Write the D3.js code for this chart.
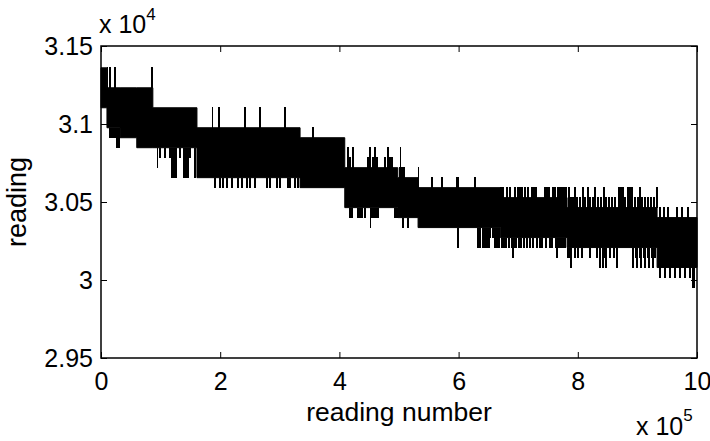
<!DOCTYPE html>
<html><head><meta charset="utf-8">
<script src="https://cdn.jsdelivr.net/npm/d3@7"></script>
<style>
body{margin:0;background:#fff}
svg{display:block}
text{font-family:"Liberation Sans",Arial,Helvetica,sans-serif;fill:#000}
</style>
</head><body>
<svg id="chart" width="710" height="441"></svg>
<script>
// tick values (x in units of 1e5 readings, y in units of 1e4)
const xTicks = [0, 2, 4, 6, 8, 10];
const yTicks = [2.95, 3, 3.05, 3.1, 3.15];

// dense core band of the reading trace: start reading number, lower and upper reading
const bandStart = [0, 10000, 32000, 60000, 87000, 161000, 334000, 409000, 498000, 532000, 670000, 782000, 933000];
const bandLo    = [31104, 30976, 30912, 30848, 30848, 30656, 30592, 30464, 30400, 30336, 30272, 30208, 30080];
const bandHi    = [31360, 31232, 31232, 31232, 31104, 30976, 30912, 30720, 30656, 30592, 30528, 30464, 30400];
const lastReading = 1000000;

// isolated excursions outside the band: reading number and reading value
const spikeAt = [
  10600, 15100, 23500, 85100, 15100, 18500, 21800, 25200, 26800, 30200,
  95100, 99000, 107400, 115800, 132600, 149300, 119100, 122500, 125800, 139300, 142600, 146000, 157700,
  187400, 198000, 241600, 266800, 308700,
  191300, 199700, 204700, 211400, 219800, 229900, 236600, 245000, 250000, 258400, 278500, 283600, 295300, 300300, 313800, 317100, 325500, 330500,
  355700,
  414400, 422800, 451300, 459700, 481500,
  417800, 448000, 456400, 463100, 476500, 484900, 488300,
  417800, 421100, 431200, 434600, 437900, 443000, 454700, 458100, 461400, 464800, 493300, 496600,
  452500,
  501700, 505000, 508400, 502500, 506700, 515100,
  532400, 555400, 572100, 597300, 599000, 627500,
  652700, 657700,
  599000, 632600, 635900, 640900, 644300, 647700, 651000, 661100, 664400, 667800,
  671100, 674500, 681200, 686200, 694600, 699700, 703000, 706400, 711400, 716400, 723200, 726500, 729900, 745000, 748300, 751700, 758400, 761700, 766800, 770100, 773500, 776800, 780200,
  672800, 676200, 679500, 684600, 689600, 692900, 696300, 701300, 704700, 709700, 714800, 719800, 724800, 731500, 736600, 739900, 746600, 753400, 756700, 763400, 768500, 771800, 775200, 778500,
  691300, 765100,
  785200, 795300, 808700, 817100, 828900, 844000, 869100, 872500, 875800, 884200, 887600, 890900, 904400, 932900,
  788600, 791900, 798700, 803700, 812100, 820500, 825500, 833900, 838900, 847300, 852300, 857400, 862400, 879200, 896000, 901000, 907700, 912800, 917800, 922800, 927900,
  783600, 786900, 795300, 800300, 807000, 820500, 832200, 837200, 845600, 854000, 860700, 865800, 892600, 897700, 904400, 911100, 917800, 924500, 929500,
  788600, 837200, 842300, 847300, 865800, 892600, 899300, 906000, 912800, 919500, 926200,
  937900, 944600, 951300, 966400, 974800, 984900,
  937900, 946300, 954700, 963100, 971500, 979900, 988300,
  993300, 995000
];
const spikeVal = [
  31360, 31360, 31360, 31360, 30912, 30912, 30912, 30912, 30848, 30848,
  30720, 30784, 30784, 30784, 30784, 30784, 30656, 30656, 30656, 30656, 30656, 30656, 30656,
  31104, 31104, 31104, 31104, 31104,
  30592, 30592, 30592, 30592, 30592, 30592, 30592, 30592, 30592, 30592, 30592, 30592, 30592, 30592, 30592, 30592, 30592, 30592,
  30976,
  30848, 30848, 30848, 30848, 30848,
  30784, 30784, 30784, 30784, 30784, 30784, 30784,
  30400, 30400, 30400, 30400, 30400, 30400, 30400, 30400, 30400, 30400, 30400, 30400,
  30336,
  30720, 30720, 30720, 30848, 30336, 30336,
  30720, 30656, 30656, 30656, 30656, 30656,
  30272, 30272,
  30208, 30208, 30208, 30208, 30208, 30208, 30208, 30208, 30208, 30208,
  30592, 30592, 30592, 30592, 30592, 30592, 30592, 30592, 30592, 30592, 30592, 30592, 30592, 30592, 30592, 30592, 30592, 30592, 30592, 30592, 30592, 30592, 30592,
  30208, 30208, 30208, 30208, 30208, 30208, 30208, 30208, 30208, 30208, 30208, 30208, 30208, 30208, 30208, 30208, 30208, 30208, 30208, 30208, 30208, 30208, 30208, 30208,
  30144, 30144,
  30592, 30592, 30592, 30592, 30592, 30592, 30592, 30592, 30592, 30592, 30592, 30592, 30592, 30592,
  30528, 30528, 30528, 30528, 30528, 30528, 30528, 30528, 30528, 30528, 30528, 30528, 30528, 30528, 30528, 30528, 30528, 30528, 30528, 30528, 30528,
  30144, 30144, 30144, 30144, 30144, 30144, 30144, 30144, 30144, 30144, 30144, 30144, 30144, 30144, 30144, 30144, 30144, 30144, 30144,
  30080, 30080, 30080, 30080, 30080, 30080, 30080, 30080, 30080, 30080, 30080,
  30464, 30464, 30464, 30464, 30464, 30464,
  30016, 30016, 30016, 30016, 30016, 30016, 30016,
  29952, 29952
];

const svg = d3.select("#chart");
const L = 101, R = 697, T = 46, B = 358;
const x = d3.scaleLinear().domain([0, 1e6]).range([L, R]);
const y = d3.scaleLinear().domain([29500, 31500]).range([B, T]);

// trace: core band
const bandPts = bandStart.map((s, i) => ({r: s, lo: bandLo[i], hi: bandHi[i]}));
bandPts.push({r: lastReading, lo: bandLo[bandLo.length - 1], hi: bandHi[bandHi.length - 1]});
const area = d3.area().curve(d3.curveStepAfter)
  .x(d => x(d.r)).y0(d => y(d.lo)).y1(d => y(d.hi));
svg.append("path").datum(bandPts).attr("d", area)
  .attr("fill", "#000").attr("stroke", "#000").attr("stroke-width", 1);

// trace: excursions
const spikes = spikeAt.map((r, i) => {
  const k = Math.max(0, d3.bisectRight(bandStart, r) - 1);
  const base = spikeVal[i] > bandHi[k] ? bandHi[k] : bandLo[k];
  return {r, v: spikeVal[i], base};
});
svg.append("g").attr("shape-rendering", "crispEdges")
  .selectAll("line").data(spikes).join("line")
  .attr("x1", d => x(d.r)).attr("x2", d => x(d.r))
  .attr("y1", d => y(d.base)).attr("y2", d => y(d.v) + (d.v > d.base ? -0.5 : 0.5))
  .attr("stroke", "#000").attr("stroke-width", 1.6);

// axes
const fs = 25;
const xv = xTicks.map(t => t * 1e5);
const yv = yTicks.map(t => Math.round(t * 1e4));
const gB = svg.append("g").attr("transform", `translate(0,${B})`)
  .call(d3.axisBottom(x).tickValues(xv).tickFormat((d, i) => String(xTicks[i])).tickSizeInner(-6).tickSizeOuter(0).tickPadding(14));
const gT = svg.append("g").attr("transform", `translate(0,${T})`)
  .call(d3.axisTop(x).tickValues(xv).tickFormat("").tickSizeInner(-6).tickSizeOuter(0));
const gL = svg.append("g").attr("transform", `translate(${L},0)`)
  .call(d3.axisLeft(y).tickValues(yv).tickFormat((d, i) => String(yTicks[i])).tickSizeInner(-6).tickSizeOuter(0).tickPadding(8));
const gR = svg.append("g").attr("transform", `translate(${R},0)`)
  .call(d3.axisRight(y).tickValues(yv).tickFormat("").tickSizeInner(-6).tickSizeOuter(0));
[gB, gT, gL, gR].forEach(g => {
  g.select(".domain").remove();
  g.selectAll(".tick line").attr("stroke", "#000").attr("stroke-width", 1);
  g.selectAll("text").attr("font-size", fs).attr("font-family", '"Liberation Sans",Arial,sans-serif').attr("fill", "#000");
});
svg.append("rect").attr("x", L).attr("y", T).attr("width", R - L).attr("height", B - T)
  .attr("fill", "none").attr("stroke", "#000").attr("stroke-width", 1.5);

// exponent labels
const e4 = svg.append("text").attr("x", 99).attr("y", 33).attr("font-size", fs);
e4.append("tspan").text("x 10");
e4.append("tspan").attr("dy", -13).attr("font-size", 17).text("4");
const e5 = svg.append("text").attr("x", 636).attr("y", 435).attr("font-size", fs);
e5.append("tspan").text("x 10");
e5.append("tspan").attr("dy", -14).attr("font-size", 17).text("5");

// axis titles
svg.append("text").attr("x", (L + R) / 2).attr("y", 421).attr("text-anchor", "middle")
  .attr("font-size", 26.5).text("reading number");
svg.append("text").attr("transform", `translate(26,${(T + B) / 2}) rotate(-90)`)
  .attr("text-anchor", "middle").attr("font-size", 27).text("reading");
</script>
</body></html>
